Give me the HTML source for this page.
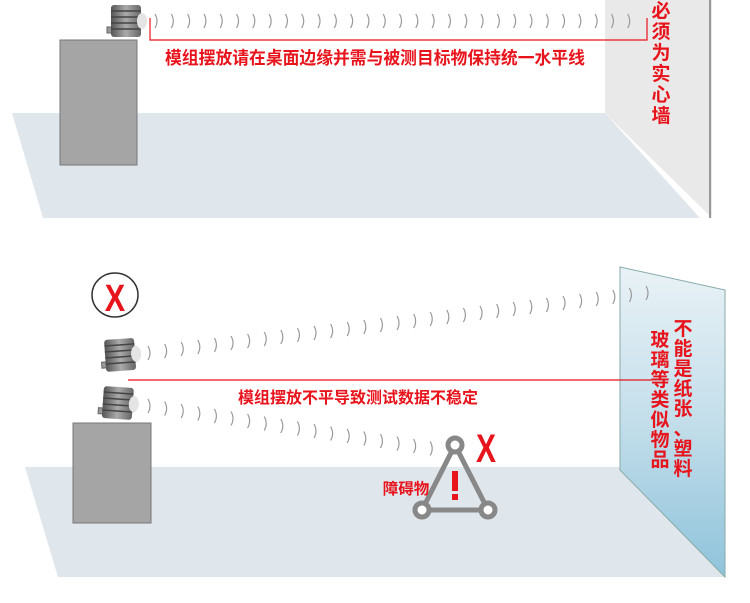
<!DOCTYPE html>
<html><head><meta charset="utf-8"><style>
html,body{margin:0;padding:0;background:#fff;}
svg{display:block;}
text{font-family:"Liberation Sans","Noto Sans CJK SC",sans-serif;font-weight:bold;fill:#e8141c;}
</style></head><body>
<svg width="750" height="603" viewBox="0 0 750 603" xmlns="http://www.w3.org/2000/svg">
<defs>
<linearGradient id="gl" x1="0" y1="0" x2="0" y2="1">
<stop offset="0" stop-color="#e9f2f6"/><stop offset="0.5" stop-color="#c3deea"/><stop offset="1" stop-color="#8fc3db"/>
</linearGradient>
<linearGradient id="dev" x1="0" y1="0" x2="1" y2="0">
<stop offset="0" stop-color="#555"/><stop offset="0.5" stop-color="#aaa"/><stop offset="1" stop-color="#666"/>
</linearGradient>
<g id="device">
<rect x="-4" y="22" width="6" height="6" fill="#999" stroke="#666"/>
<rect x="0" y="0" width="30" height="32" rx="3" fill="url(#dev)"/>
<path d="M0,6H30M0,12H30M0,18H30M0,24H30" stroke="#444" stroke-width="1.5"/>
<ellipse cx="31" cy="16" rx="5" ry="8" fill="#e4e4e4"/>
</g>
</defs>
<!-- TOP -->
<polygon points="605,0 712,0 712,218 605,113" fill="#e9e9e9"/>
<polygon points="12,113 605,113 700,218 43,218" fill="#dfe6ec"/>
<line x1="710" y1="0" x2="710" y2="218" stroke="#999" stroke-width="2"/>
<rect x="60" y="40" width="77" height="125" fill="#a5a5a5" stroke="#777"/>
<use href="#device" x="111" y="5"/>
<path fill="none" stroke="#999" stroke-width="1.2" d="M155,14 q4,7 0,14 m16.3,-14 q4,7 0,14 m16.3,-14 q4,7 0,14 m16.3,-14 q4,7 0,14 m16.3,-14 q4,7 0,14 m16.3,-14 q4,7 0,14 m16.3,-14 q4,7 0,14 m16.3,-14 q4,7 0,14 m16.3,-14 q4,7 0,14 m16.3,-14 q4,7 0,14 m16.3,-14 q4,7 0,14 m16.3,-14 q4,7 0,14 m16.3,-14 q4,7 0,14 m16.3,-14 q4,7 0,14 m16.3,-14 q4,7 0,14 m16.3,-14 q4,7 0,14 m16.3,-14 q4,7 0,14 m16.3,-14 q4,7 0,14 m16.3,-14 q4,7 0,14 m16.3,-14 q4,7 0,14 m16.3,-14 q4,7 0,14 m16.3,-14 q4,7 0,14 m16.3,-14 q4,7 0,14 m16.3,-14 q4,7 0,14 m16.3,-14 q4,7 0,14 m16.3,-14 q4,7 0,14 m16.3,-14 q4,7 0,14 m16.3,-14 q4,7 0,14 m16.3,-14 q4,7 0,14 m16.3,-14 q4,7 0,14"/>
<polyline points="150,18 150,40 647,40 647,18" fill="none" stroke="#e8141c" stroke-width="1.2"/>
<text x="375" y="64" font-size="16.8" text-anchor="middle" transform="translate(375,0) scale(1,1.05) translate(-375,-3)">模组摆放请在桌面边缘并需与被测目标物保持统一水平线</text>
<text font-size="19" text-anchor="middle"><tspan x="661" y="17">必</tspan><tspan x="661" y="38">须</tspan><tspan x="661" y="59">为</tspan><tspan x="661" y="80">实</tspan><tspan x="661" y="101">心</tspan><tspan x="661" y="122">墙</tspan></text>
<!-- BOTTOM -->
<polygon points="25,467 620,467 725,577 58,577" fill="#dfe6ec"/>
<polygon points="620,267 725,290 725,577 620,470" fill="url(#gl)" stroke="#8aa" stroke-width="1"/>
<ellipse cx="115" cy="295" rx="23" ry="22" fill="#fff" stroke="#333" stroke-width="1.5"/>
<text x="115" y="310" font-size="36" text-anchor="middle" transform="translate(115,0) scale(0.85,1.05) translate(-115,-14)">X</text>
<rect x="73" y="423" width="78" height="100" fill="#a5a5a5" stroke="#777"/>
<g transform="translate(104,340) rotate(-4)"><use href="#device"/></g>
<g transform="translate(104,386) rotate(4)"><use href="#device"/></g>
<path fill="none" stroke="#999" stroke-width="1.2" d="M148,346 q4,7 0,14 m16.6,-16 q4,7 0,14 m16.6,-16 q4,7 0,14 m16.6,-16 q4,7 0,14 m16.6,-16 q4,7 0,14 m16.6,-16 q4,7 0,14 m16.6,-16 q4,7 0,14 m16.6,-16 q4,7 0,14 m16.6,-16 q4,7 0,14 m16.6,-16 q4,7 0,14 m16.6,-16 q4,7 0,14 m16.6,-16 q4,7 0,14 m16.6,-16 q4,7 0,14 m16.6,-16 q4,7 0,14 m16.6,-16 q4,7 0,14 m16.6,-16 q4,7 0,14 m16.6,-16 q4,7 0,14 m16.6,-16 q4,7 0,14 m16.6,-16 q4,7 0,14 m16.6,-16 q4,7 0,14 m16.6,-16 q4,7 0,14 m16.6,-16 q4,7 0,14 m16.6,-16 q4,7 0,14 m16.6,-16 q4,7 0,14 m16.6,-16 q4,7 0,14 m16.6,-16 q4,7 0,14 m16.6,-16 q4,7 0,14 m16.6,-16 q4,7 0,14 m16.6,-16 q4,7 0,14 m16.6,-16 q4,7 0,14 m16.6,-16 q4,7 0,14"/>
<path fill="none" stroke="#999" stroke-width="1.2" d="M148,399 q4,7 0,14 m16.6,-11.5 q4,7 0,14 m16.6,-11.5 q4,7 0,14 m16.6,-11.5 q4,7 0,14 m16.6,-11.5 q4,7 0,14 m16.6,-11.5 q4,7 0,14 m16.6,-11.5 q4,7 0,14 m16.6,-11.5 q4,7 0,14 m16.6,-11.5 q4,7 0,14 m16.6,-11.5 q4,7 0,14 m16.6,-11.5 q4,7 0,14 m16.6,-11.5 q4,7 0,14 m16.6,-11.5 q4,7 0,14 m16.6,-11.5 q4,7 0,14 m16.6,-11.5 q4,7 0,14 m16.6,-11.5 q4,7 0,14 m16.6,-11.5 q4,7 0,14 m16.6,-11.5 q4,7 0,14"/>
<line x1="128" y1="380" x2="652" y2="380" stroke="#e8141c" stroke-width="1.2"/>
<text x="358" y="403" font-size="16" text-anchor="middle">模组摆放不平导致测试数据不稳定</text>
<g stroke="#888" stroke-width="5" fill="none">
<polyline points="455,445 422,510 488,510 455,445"/>
</g>
<g fill="#fff" stroke="#888" stroke-width="5">
<circle cx="455" cy="445" r="7"/><circle cx="422" cy="510" r="7"/><circle cx="488" cy="510" r="7"/>
</g>
<rect x="452" y="471" width="6" height="20" fill="#e8141c"/>
<rect x="452" y="494" width="6" height="6" fill="#e8141c"/>
<text x="486" y="462" font-size="40" text-anchor="middle" transform="translate(486,0) scale(0.75,1) translate(-486,0)">X</text>
<text x="406" y="494" font-size="15.5" text-anchor="middle">障碍物</text>
<text font-size="19" text-anchor="middle"><tspan x="683" y="335">不</tspan><tspan x="683" y="355">能</tspan><tspan x="683" y="375">是</tspan><tspan x="683" y="395">纸</tspan><tspan x="683" y="415">张</tspan><tspan x="683" y="435">、</tspan><tspan x="683" y="455">塑</tspan><tspan x="683" y="475">料</tspan></text>
<text font-size="19" text-anchor="middle"><tspan x="660" y="346">玻</tspan><tspan x="660" y="366">璃</tspan><tspan x="660" y="386">等</tspan><tspan x="660" y="406">类</tspan><tspan x="660" y="426">似</tspan><tspan x="660" y="446">物</tspan><tspan x="660" y="466">品</tspan></text>
</svg>
</body></html>
